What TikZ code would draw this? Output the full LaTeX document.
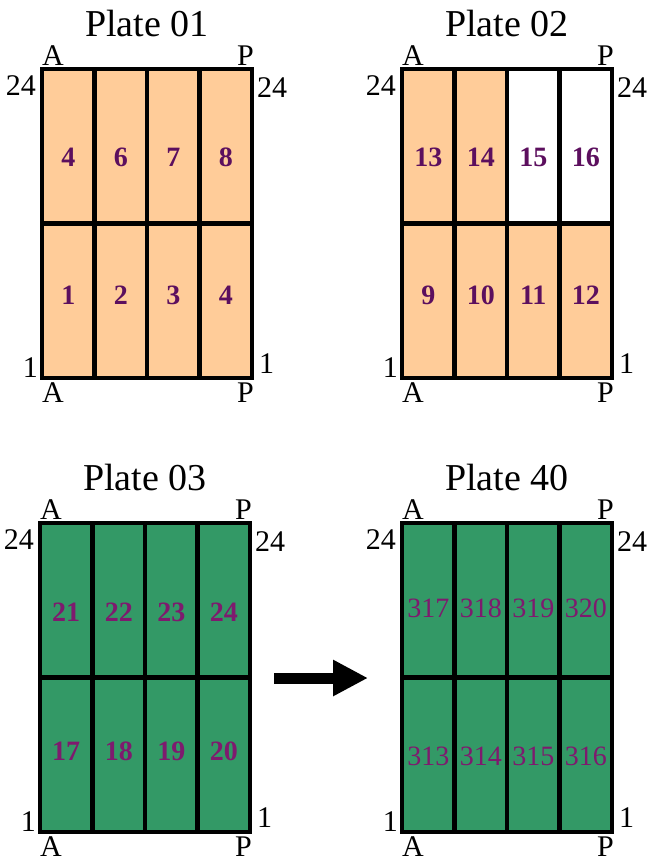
\documentclass[tikz,border=0pt]{standalone}
\usepackage{fontspec}
\setmainfont{Liberation Serif}
\usetikzlibrary{arrows.meta}

\definecolor{peach}{HTML}{FFCC99}
\definecolor{leaf}{HTML}{339966}
\definecolor{plum}{HTML}{5C0F5E}
\definecolor{berry}{HTML}{7E1A6E}

\tikzset{
  cell/.style={draw=black, line width=4.5pt, minimum width=52.5pt,
    minimum height=154.5pt, inner sep=0pt},
  platetitle/.style={font=\fontsize{38}{38}\selectfont, anchor=base, inner sep=0pt},
  edgelabel/.style={font=\fontsize{30}{30}\selectfont, inner sep=0pt},
  numbold/.style={font=\fontsize{28}{28}\selectfont\bfseries, text=plum, inner sep=0pt},
  numgreen/.style={font=\fontsize{28}{28}\selectfont\bfseries, text=berry, inner sep=0pt},
  numplain/.style={font=\fontsize{28}{28}\selectfont, text=berry, inner sep=0pt},
}

% One plate: #1 id, #2 left, #3 top, #4 title, #5 upper row (number/fill),
% #6 lower row, #7 number style, #8 upper number height, #9 lower number height
\newcommand{\drawplate}[9]{%
\begin{scope}[shift={(#2,#3)}]
  \node[platetitle] (#1title) at (105,-33) {#4};
  \foreach \n/\f [count=\i from 0] in {#5} {
    \node[cell, fill=\f] (#1u\i) at (52.5*\i+26.25,77.25) {};
    \node[#7] (#1un\i) at (52.5*\i+26.25,#8) {\n};
  }
  \foreach \n/\f [count=\i from 0] in {#6} {
    \node[cell, fill=\f] (#1l\i) at (52.5*\i+26.25,231.75) {};
    \node[#7] (#1ln\i) at (52.5*\i+26.25,#9) {\n};
  }
  \node[edgelabel, anchor=base west] (#1At) at (0,-4) {A};
  \node[edgelabel, anchor=base east] (#1Pt) at (212,-4) {P};
  \node[edgelabel, anchor=base east] (#1Lt) at (-6,26) {24};
  \node[edgelabel, anchor=base west] (#1Rt) at (215,28) {24};
  \node[edgelabel, anchor=base east] (#1Lb) at (-4,308) {1};
  \node[edgelabel, anchor=base west] (#1Rb) at (217,304) {1};
  \node[edgelabel, anchor=base west] (#1Ab) at (0,333) {A};
  \node[edgelabel, anchor=base east] (#1Pb) at (212,333) {P};
\end{scope}}

\begin{document}
\begin{tikzpicture}[x=1pt, y=-1pt]
  \useasboundingbox (0,0) rectangle (650,863);

  \drawplate{pa}{42}{69}{Plate 01}
    {4/peach,6/peach,7/peach,8/peach}
    {1/peach,2/peach,3/peach,4/peach}{numbold}{88}{226}

  \drawplate{pb}{402}{69}{Plate 02}
    {13/peach,14/peach,15/white,16/white}
    {9/peach,10/peach,11/peach,12/peach}{numbold}{88}{226}

  \drawplate{pc}{40}{523}{Plate 03}
    {21/leaf,22/leaf,23/leaf,24/leaf}
    {17/leaf,18/leaf,19/leaf,20/leaf}{numgreen}{89}{228}

  \drawplate{pd}{402}{523}{Plate 40}
    {317/leaf,318/leaf,319/leaf,320/leaf}
    {313/leaf,314/leaf,315/leaf,316/leaf}{numplain}{85}{233}

  % arrow from plate 03 towards plate 40
  \coordinate (arrS) at (274,678);
  \coordinate (arrE) at (368,678);
  \draw[line width=11pt, -{Triangle[length=35pt,width=34pt]}] (arrS) -- (arrE);
\end{tikzpicture}
\end{document}
